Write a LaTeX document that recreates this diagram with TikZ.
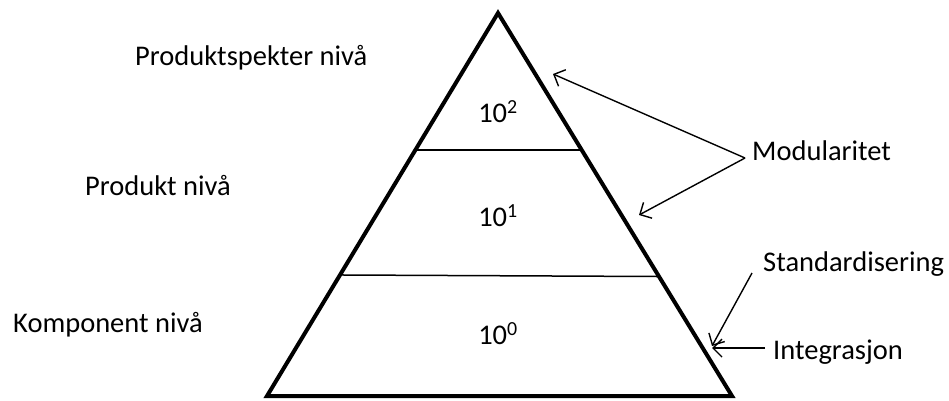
\documentclass[tikz,border=0pt]{standalone}
\usepackage{fontspec}
\setmainfont{Carlito}
\usetikzlibrary{arrows.meta,calc}
\begin{document}
\begin{tikzpicture}[x=1pt,y=-1pt,
  lbl/.style={anchor=west,inner sep=0pt,font=\fontsize{28.5}{33}\selectfont},
  num/.style={inner sep=0pt,font=\fontsize{28.5}{33}\selectfont},
  pyr/.style={line width=4pt,line join=miter},
  lvl/.style={line width=1.5pt},
  arr/.style={line width=1.4pt,-{Straight Barb[length=9pt,width=18pt,line width=1.4pt]}}]
\useasboundingbox (0,0) rectangle (949,400);
% pyramid
\coordinate (apex) at (498,13);
\coordinate (bl) at (267,396);
\coordinate (br) at (732,396);
\draw[pyr] (apex) -- (bl) -- (br) -- cycle;
\coordinate (l1) at ($(apex)!0.358!(bl)$);
\coordinate (r1) at ($(apex)!0.358!(br)$);
\coordinate (l2) at ($(apex)!0.684!(bl)$);
\coordinate (r2) at ($(apex)!0.688!(br)$);
\draw[lvl] (l1) -- (r1);
\draw[lvl] (l2) -- (r2);
% numbers
\node[num] (n2) at (498,112) {10\textsuperscript{2}};
\node[num] (n1) at (498,216) {10\textsuperscript{1}};
\node[num] (n0) at (498,334) {10\textsuperscript{0}};
% left labels
\node[lbl] (ps) at (135,58) {Produktspekter nivå};
\node[lbl] (p) at (85,186) {Produkt nivå};
\node[lbl] (k) at (13,325) {Komponent nivå};
% right labels
\node[lbl] (mod) at (752,151) {Modularitet};
\node[lbl] (std) at (763,264) {Standardisering};
\node[lbl] (int) at (773,352) {Integrasjon};
% arrows
\coordinate (ms) at (745,158);
\coordinate (mt1) at (553,74);
\coordinate (mt2) at (639,215);
\draw[arr] (ms) -- (mt1);
\draw[arr] (ms) -- (mt2);
\coordinate (ss) at (752,273);
\coordinate (st) at (712,346);
\draw[arr] (ss) -- (st);
\coordinate (is) at (765,348);
\coordinate (it) at (712,348);
\draw[arr] (is) -- (it);
\end{tikzpicture}
\end{document}
